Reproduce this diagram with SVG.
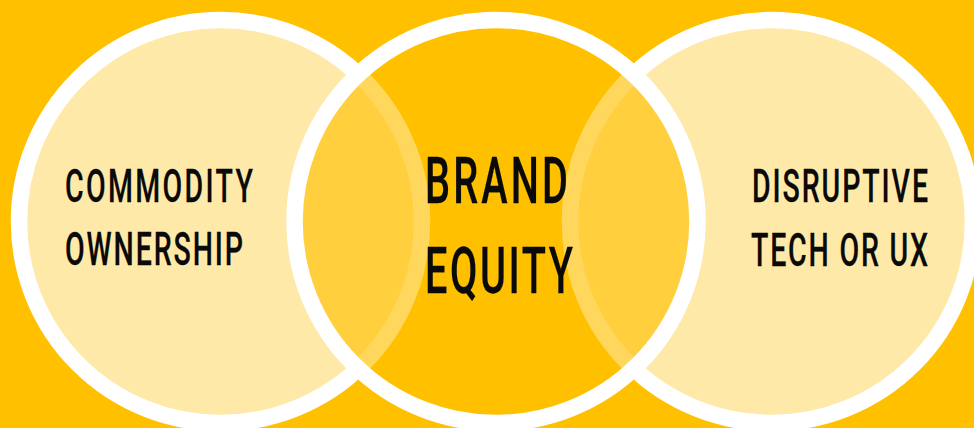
<svg xmlns="http://www.w3.org/2000/svg" width="974" height="428" viewBox="0 0 974 428">
  <style>
    .bg { fill: #FFC000; }
    .ring { stroke: #FFFFFF; stroke-width: 16.5; }
    .side { fill: #FFE9A9; }
    .core { fill: #FFC000; fill-opacity: 0.64; }
    .lbl { font-family: Roboto, "Liberation Sans", Arial, sans-serif; font-weight: 500; fill: #0A0A0A; stroke: #0A0A0A; stroke-width: 0.25; }
    .sm { font-size: 46px; }
    .lg { font-size: 64px; }
  </style>
  <rect class="bg" x="0" y="0" width="974" height="428"/>

  <g id="commodity-ownership">
    <circle class="side ring" cx="220.5" cy="221.5" r="201.5"/>
  </g>
  <g id="disruptive-tech">
    <circle class="side ring" cx="771.5" cy="221.5" r="201.5"/>
  </g>
  <g id="brand-equity">
    <circle class="core ring" cx="496" cy="221.5" r="201.5"/>
  </g>

  <!-- labels drawn last so they sit above the translucent centre circle;
       horizontally condensed (scale 0.62) with tracking set by textLength -->
  <g id="labels" transform="scale(0.62,1)">
    <text class="lbl sm" x="104.84" y="202" textLength="303.23" lengthAdjust="spacing">COMMODITY</text>
    <text class="lbl sm" x="104.84" y="265" textLength="287.1" lengthAdjust="spacing">OWNERSHIP</text>
    <text class="lbl lg" x="685.48" y="203" textLength="230.65" lengthAdjust="spacing">BRAND</text>
    <text class="lbl lg" x="685.48" y="293" textLength="238.71" lengthAdjust="spacing">EQUITY</text>
    <text class="lbl sm" x="1212.9" y="202" textLength="283.87" lengthAdjust="spacing">DISRUPTIVE</text>
    <text class="lbl sm" x="1211.29" y="266" textLength="285.48" lengthAdjust="spacing">TECH OR UX</text>
  </g>
</svg>
